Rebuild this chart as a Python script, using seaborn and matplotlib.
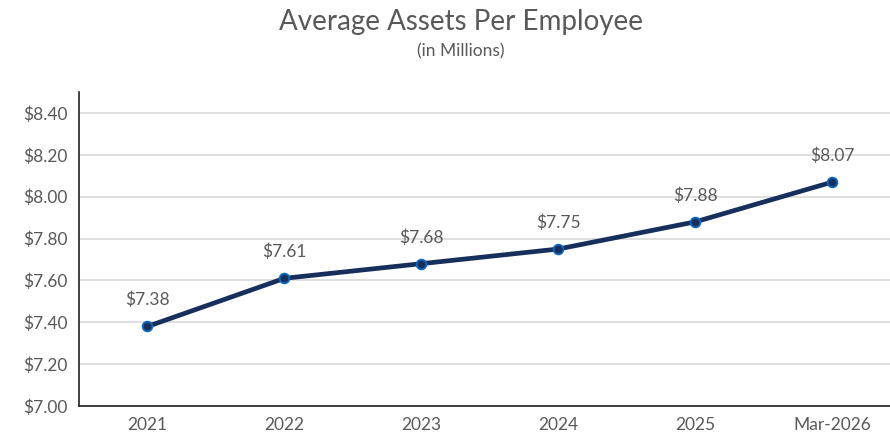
import pandas as pd
import matplotlib.pyplot as plt
import seaborn as sns
from matplotlib.ticker import FuncFormatter

sns.set_theme(style="white")
plt.rcParams['font.family'] = ['Lato', 'DejaVu Sans']

# Datos
periodos = ['2021', '2022', '2023', '2024', '2025', 'Mar-2026']
activos = [7.38, 7.61, 7.68, 7.75, 7.88, 8.07]
ticks_y = [7.00, 7.20, 7.40, 7.60, 7.80, 8.00, 8.20, 8.40]

df = pd.DataFrame({'Periodo': periodos, 'Activos': activos})

gris = '#595959'
azul_linea = '#172f5c'

fig = plt.figure(figsize=(8.9, 4.4), dpi=100)
ax = fig.add_axes([79 / 890, 34 / 440, 811 / 890, 314 / 440])

sns.lineplot(data=df, x='Periodo', y='Activos', ax=ax, sort=False,
             color=azul_linea, linewidth=3.4, marker='o', markersize=7,
             markerfacecolor=azul_linea, markeredgecolor='#0a6ac0',
             markeredgewidth=1.3, zorder=3)

# Etiquetas de datos
for i, v in enumerate(activos):
    ax.annotate(f'${v:.2f}', (i, v), xytext=(0, 13), textcoords='offset points',
                ha='center', va='bottom', fontsize=12.5, color=gris)

ax.set_ylim(7.0, 8.5)
ax.set_xlim(-0.5, 5.42)
ax.set_yticks(ticks_y)
ax.yaxis.set_major_formatter(FuncFormatter(lambda v, p: f'${v:.2f}'))
ax.grid(axis='y', color='#d9d9d9', linewidth=1.2)
ax.set_axisbelow(True)
ax.tick_params(axis='both', length=0, labelsize=12.5, labelcolor=gris, pad=8)
ax.set_xlabel('')
ax.set_ylabel('')

for lado in ['top', 'right']:
    ax.spines[lado].set_visible(False)
for lado in ['left', 'bottom']:
    ax.spines[lado].set_color('#222222')
    ax.spines[lado].set_linewidth(1.2)

fig.text(461 / 890, 1 - 22 / 440, 'Average Assets Per Employee', ha='center', va='center',
         fontsize=20, color=gris)
fig.text(461 / 890, 1 - 51 / 440, '(in Millions)', ha='center', va='center',
         fontsize=12.5, color=gris)

fig.savefig('out.png', dpi=100)
plt.close()
